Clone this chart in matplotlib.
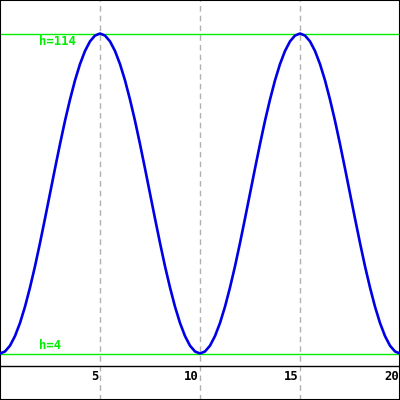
import numpy as np
import matplotlib.pyplot as plt

# height readings every quarter unit along x (rising half of a wave, then falling)
rise = [4, 4.7, 6.7, 10, 14.5, 20.1, 26.7, 34, 42, 50.4,
        59, 67.6, 76, 84, 91.3, 97.9, 103.5, 108, 111.3, 113.3]
fall = [114] + rise[::-1][:-1]
h_vals = rise + fall + rise + fall + [4]
x_vals = np.arange(len(h_vals)) * 0.25
h_max = 114
h_min = 4
x_ticks = [5, 10, 15, 20]
tick_labels = ['5', '10', '15', '20']

fig = plt.figure(figsize=(4, 4), dpi=100)
ax = fig.add_axes([0, 0, 1, 1])
ax.set_xlim(0, 20)
ax.set_ylim(-11.98, 125.52)

for xt in x_ticks[:-1]:
    ax.axvline(xt, color='#b0b0b0', lw=1, ls=(0, (4, 3)), zorder=1)

ax.axhline(-0.3, color='black', lw=1, zorder=2)
ax.axhline(h_max, color='#00ee00', lw=1, zorder=2)
ax.axhline(h_min, color='#00ee00', lw=1, zorder=2)

ax.plot(x_vals, h_vals, color='#0000e6', lw=1.9, zorder=3)

font = dict(family='DejaVu Sans Mono', weight='bold', size=8.8)
ax.text(1.95, h_max - 0.5, 'h=%d' % h_max, color='#00ee00', va='top', ha='left', **font)
ax.text(1.95, h_min + 0.4, 'h=%d' % h_min, color='#00ee00', va='bottom', ha='left', **font)
for xt, lab in zip(x_ticks, tick_labels):
    ax.text(xt - 0.05, -1.6, lab, color='black', va='top', ha='right', **font)

ax.set_xticks([])
ax.set_yticks([])
for s in ax.spines.values():
    s.set_color('black')
    s.set_linewidth(1.5)

fig.savefig('out.png', dpi=100)
